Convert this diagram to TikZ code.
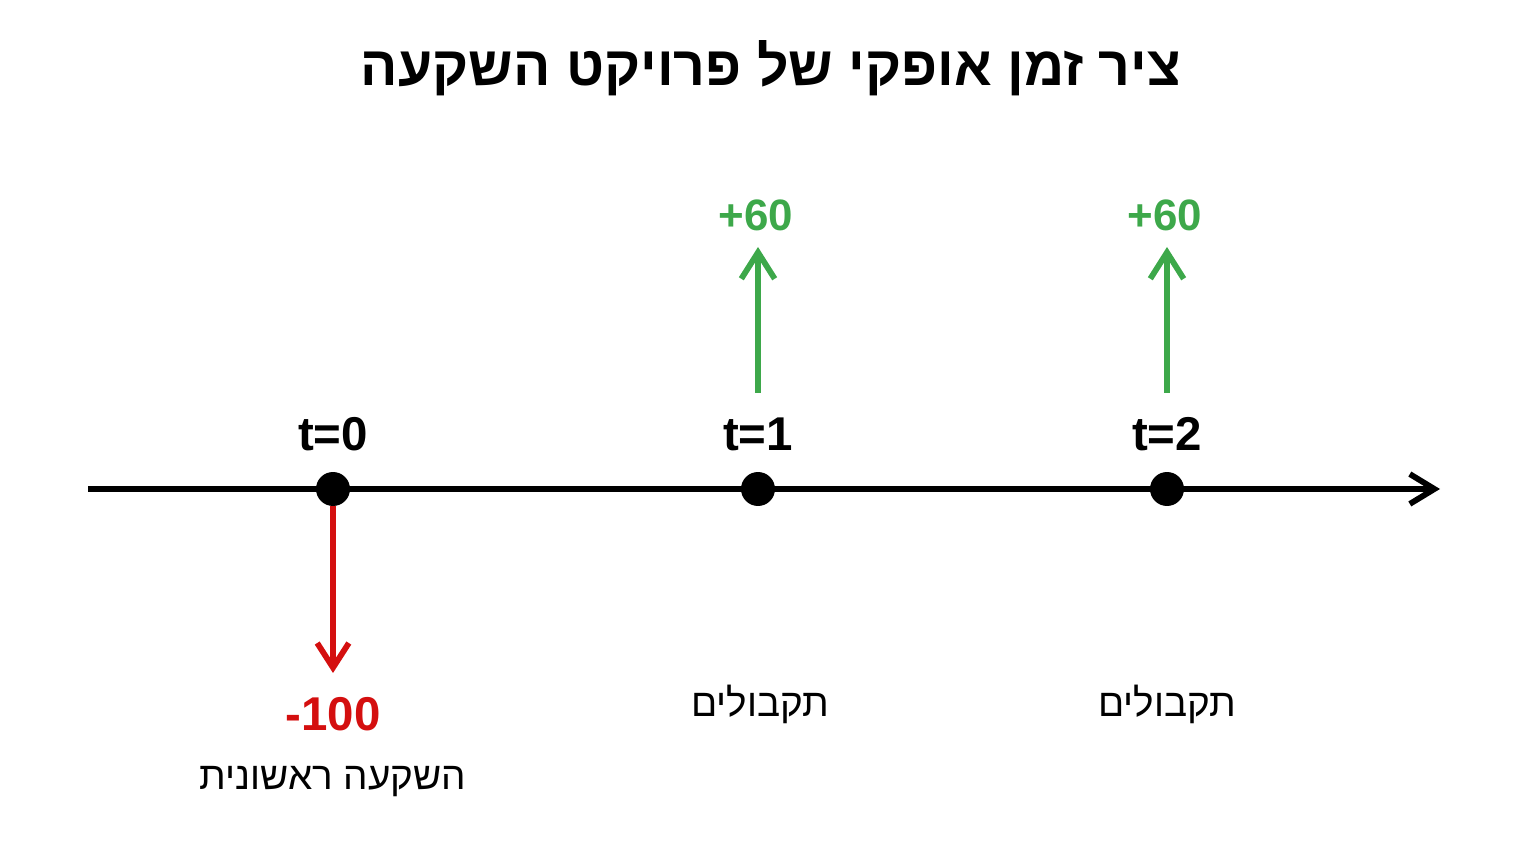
\documentclass[tikz,border=0pt]{standalone}
\usepackage{fontspec}
\setmainfont{Liberation Sans}
\newfontfamily\hebfont[Script=Hebrew]{Liberation Sans}
\TeXXeTstate=1
\usetikzlibrary{arrows.meta}
\definecolor{posgreen}{HTML}{3DA84A}
\definecolor{negred}{HTML}{D40F0F}
\tikzset{
  every node/.style={inner sep=0pt, outer sep=0pt},
  timedot/.style={circle, fill=black, minimum size=0.68cm},
  axisline/.style={line width=3.3pt, -{Straight Barb[length=14pt, width=17pt, line width=3.3pt]}},
  flowup/.style={line width=3.3pt, posgreen, -{Straight Barb[length=15pt, width=19pt, line width=3.3pt]}},
  flowdown/.style={line width=3.3pt, negred, -{Straight Barb[length=14pt, width=18pt, line width=3.3pt]}},
  tlabel/.style={anchor=base, font=\fontsize{27}{30}\selectfont\bfseries},
  poslabel/.style={anchor=base, text=posgreen, font=\fontsize{25}{28}\selectfont\bfseries},
  neglabel/.style={anchor=base, text=negred, font=\fontsize{27}{30}\selectfont\bfseries},
  heblabel/.style={anchor=base, font=\hebfont\fontsize{22}{26}\selectfont},
  titlelabel/.style={anchor=base, font=\hebfont\fontsize{31.5}{36}\selectfont\bfseries},
}
\begin{document}
\begin{tikzpicture}[x=0.02cm, y=-0.02cm]
\useasboundingbox (0,0) rectangle (1536,864);
\node[titlelabel] (title) at (771,86) {\beginR ציר זמן אופקי של פרויקט השקעה\endR};
\coordinate (axstart) at (88,489);
\coordinate (axend) at (1440,489);
\draw[axisline] (axstart) -- (axend);
\node[timedot] (d0) at (333,489) {};
\node[timedot] (d1) at (758,489) {};
\node[timedot] (d2) at (1167,489) {};
\node[tlabel] (t0) at (333,451) {t=0};
\node[tlabel] (t1) at (758,451) {t=1};
\node[tlabel] (t2) at (1167,451) {t=2};
% outflow at t=0
\coordinate (r0end) at (333,673);
\draw[flowdown] (d0.south) -- (r0end);
\node[neglabel] (v0) at (333,731) {-100};
\node[heblabel] (n0) at (333,789) {\beginR השקעה ראשונית\endR};
% inflows
\coordinate (g1start) at (758,393);
\coordinate (g1end) at (758,247);
\draw[flowup] (g1start) -- (g1end);
\node[poslabel] (v1) at (756,231) {+60};
\node[heblabel] (n1) at (760,717) {\beginR תקבולים\endR};
\coordinate (g2start) at (1167,393);
\coordinate (g2end) at (1167,247);
\draw[flowup] (g2start) -- (g2end);
\node[poslabel] (v2) at (1165,231) {+60};
\node[heblabel] (n2) at (1167,717) {\beginR תקבולים\endR};
\end{tikzpicture}
\end{document}
